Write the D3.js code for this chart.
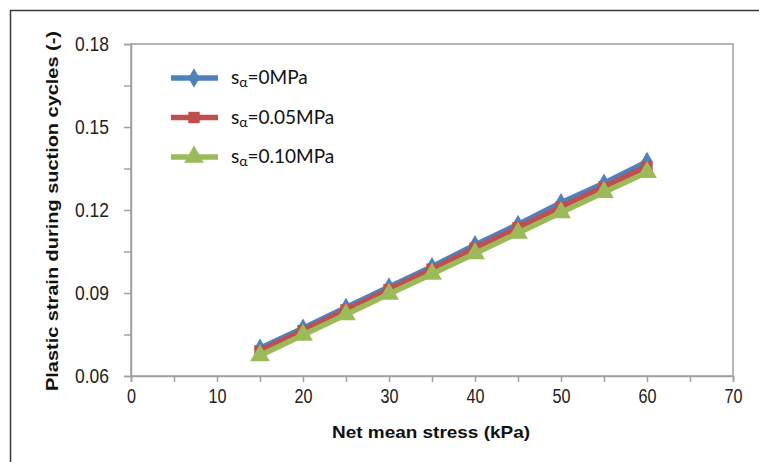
<!DOCTYPE html>
<html><head><meta charset="utf-8">
<script src="https://cdn.jsdelivr.net/npm/d3@7"></script>
<style>body{margin:0;background:#fff}svg{display:block}</style>
</head><body>
<script>
const stress = [15,20,25,30,35,40,45,50,55,60];
const s0 = [0.0700,0.0773,0.0848,0.0922,0.0995,0.1074,0.1148,0.1226,0.1297,0.1375];
const s005 = [0.0691,0.0764,0.0839,0.0912,0.0986,0.1062,0.1136,0.1211,0.1284,0.1357];
const s010 = [0.0674,0.0748,0.0822,0.0896,0.0969,0.1043,0.1117,0.1191,0.1264,0.1336];
const seriesNames = ["0MPa","0.05MPa","0.10MPa"];
const xTicks = [0,10,20,30,40,50,60,70];
const yTicks = [0.06,0.09,0.12,0.15,0.18];

const W=759,H=462;
const svg=d3.select("body").append("svg").attr("width",W).attr("height",H);
svg.append("rect").attr("x",10.5).attr("y",10.5).attr("width",W+20).attr("height",H+20)
  .attr("fill","#fff").attr("stroke","#3a3a3a").attr("stroke-width",1.5);

const m={l:131,t:44,r:733,b:376};
const x=d3.scaleLinear().domain([0,70]).range([m.l,m.r]);
const y=d3.scaleLinear().domain([0.06,0.18]).range([m.b,m.t]);

svg.append("rect").attr("x",m.l).attr("y",m.t).attr("width",m.r-m.l).attr("height",m.b-m.t)
  .attr("fill","none").attr("stroke","#a0a0a0").attr("stroke-width",1.5);

const axisFont="'Liberation Sans',Arial,sans-serif";
const xa=svg.append("g").attr("transform",`translate(0,${m.b})`)
  .call(d3.axisBottom(x).tickValues(d3.range(0,71,5)).tickSize(6).tickFormat(d=>xTicks.includes(d)?d:""));
xa.select(".domain").attr("stroke","#a0a0a0").attr("stroke-width",1.5);
xa.selectAll(".tick line").attr("stroke","#a0a0a0").attr("stroke-width",1.5);
xa.selectAll(".tick text").attr("font-family",axisFont).attr("font-size",20).attr("fill","#222")
  .attr("y",8).attr("dy","0.95em")
  .each(function(){const s=this.textContent; if(s) d3.select(this).attr("textLength",s.length*9).attr("lengthAdjust","spacingAndGlyphs");});

const ya=svg.append("g").attr("transform",`translate(${m.l},0)`)
  .call(d3.axisLeft(y).tickValues(d3.range(0,9).map(i=>0.06+i*0.015)).tickSize(7)
  .tickFormat(d=>{const v=yTicks.find(t=>Math.abs(t-d)<1e-6);return v!==undefined?v.toFixed(2):"";}));
ya.select(".domain").attr("stroke","#a0a0a0").attr("stroke-width",1.5);
ya.selectAll(".tick line").attr("stroke","#a0a0a0").attr("stroke-width",1.5);
ya.selectAll(".tick text").attr("font-family",axisFont).attr("font-size",20).attr("fill","#222").attr("x",-22)
  .each(function(){const s=this.textContent; if(s) d3.select(this).attr("textLength",34).attr("lengthAdjust","spacingAndGlyphs");});

svg.append("text").attr("x",431).attr("y",438).attr("text-anchor","middle")
  .attr("font-family",axisFont).attr("font-weight","bold").attr("font-size",17).attr("fill","#111")
  .attr("textLength",198).attr("lengthAdjust","spacingAndGlyphs")
  .text("Net mean stress (kPa)");
svg.append("text").attr("transform",`translate(58,211) rotate(-90)`).attr("text-anchor","middle")
  .attr("font-family",axisFont).attr("font-weight","bold").attr("font-size",17).attr("fill","#111")
  .attr("textLength",360).attr("lengthAdjust","spacingAndGlyphs")
  .text("Plastic strain during suction cycles (-)");

const colors=["#4F81BD","#C0504D","#9BBB59"];
const data=[s0,s005,s010];
const symbols=[d3.symbolDiamond,d3.symbolSquare,d3.symbolTriangle];
const sizes=[110,130,170];
const line=d3.line().x((d,i)=>x(stress[i])).y(d=>y(d));
data.forEach((vals,k)=>{
  svg.append("path").datum(vals).attr("d",line).attr("fill","none")
    .attr("stroke",colors[k]).attr("stroke-width",5.5);
  svg.selectAll(null).data(vals).enter().append("path")
    .attr("d",d3.symbol().type(symbols[k]).size(sizes[k]))
    .attr("transform",(d,i)=>`translate(${x(stress[i])},${y(d)})`)
    .attr("fill",colors[k]);
});

const lg=svg.append("g");
seriesNames.forEach((n,k)=>{
  const ly=78+k*39.5;
  lg.append("line").attr("x1",171).attr("x2",218).attr("y1",ly).attr("y2",ly)
    .attr("stroke",colors[k]).attr("stroke-width",5.5);
  lg.append("path").attr("d",d3.symbol().type(symbols[k]).size(sizes[k])())
    .attr("transform",`translate(194,${ly})`).attr("fill",colors[k]);
  const t=lg.append("text").attr("x",231).attr("y",ly+6).attr("font-family","Lato,'Open Sans',sans-serif")
    .attr("font-size",19).attr("fill","#111");
  t.append("tspan").text("s");
  t.append("tspan").attr("font-size",14).attr("dy",3).text("α");
  t.append("tspan").attr("dy",-3).text("="+n);
});
</script>
</body></html>
